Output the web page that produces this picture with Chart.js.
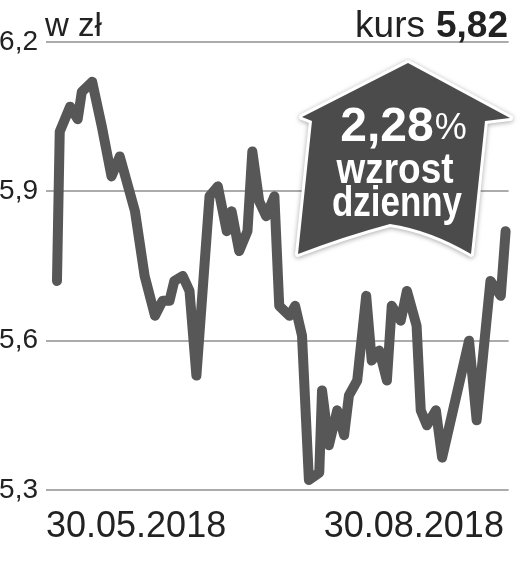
<!DOCTYPE html>
<html>
<head>
<meta charset="utf-8">
<script src="https://cdn.jsdelivr.net/npm/chart.js@4/dist/chart.umd.min.js"></script>
<style>
html,body{margin:0;padding:0;background:#fff;}
#c{display:block;}
</style>
</head>
<body>
<canvas id="c" width="519" height="565"></canvas>
<script>
// ---- data ----
const dayIndex = [0,0.4,1.9,3.0,3.6,5.1,6.5,7.9,9.1,11.3,12.7,14.2,15.3,16.3,17.0,18.2,19.2,20.2,22.1,23.3,24.6,25.3,26.4,27.6,28.3,29.3,30.3,31.5,32.2,33.7,34.5,35.5,36.5,38.0,38.4,39.4,40.6,41.6,42.3,43.5,44.8,45.6,46.7,47.8,48.5,49.8,50.7,52.1,52.7,53.6,54.9,55.8,59.7,60.8,62.8,64.3,65.0];
const kurs = [5.72,6.02,6.07,6.045,6.10,6.12,6.03,5.93,5.97,5.86,5.73,5.65,5.68,5.68,5.72,5.73,5.70,5.53,5.89,5.91,5.82,5.86,5.78,5.82,5.98,5.88,5.85,5.89,5.67,5.65,5.67,5.61,5.32,5.335,5.50,5.39,5.46,5.41,5.49,5.52,5.69,5.56,5.58,5.52,5.67,5.64,5.70,5.63,5.46,5.43,5.46,5.365,5.60,5.44,5.72,5.69,5.82];
const yTicks = [5.3, 5.6, 5.9, 6.2];
const xTickLabels = ['30.05.2018', '30.08.2018'];
const xMin = -1.59, xMax = 65.43;
const xTickPos = [xMin, 64.75];
const unitLabel = 'w zł';
const kursLabel = 'kurs';
const kursValue = '5,82';
const changeValue = '2,28';
const changeLines = ['wzrost', 'dzienny'];

const FONT = '"Liberation Sans", Arial, sans-serif';
const TXT = '#222';

const overlay = {
  id: 'overlay',
  afterDraw(chart) {
    const ctx = chart.ctx;
    ctx.save();
    // header texts
    ctx.fillStyle = TXT;
    ctx.textBaseline = 'alphabetic';
    ctx.textAlign = 'left';
    ctx.font = '33px ' + FONT;
    ctx.fillText(unitLabel, 45, 36);
    ctx.font = 'bold 37px ' + FONT;
    const wv = ctx.measureText(kursValue).width;
    ctx.fillText(kursValue, 508 - wv, 37);
    ctx.font = '37px ' + FONT;
    const wk = ctx.measureText(kursLabel).width;
    ctx.fillText(kursLabel, 508 - wv - 11 - wk, 37);

    // arrow badge
    ctx.beginPath();
    ctx.moveTo(408, 63);
    ctx.lineTo(510, 118);
    ctx.lineTo(485, 121);
    ctx.lineTo(471, 254);
    ctx.quadraticCurveTo(430, 230, 390, 224);
    ctx.quadraticCurveTo(345, 236, 298, 254);
    ctx.lineTo(312, 121);
    ctx.lineTo(302, 117);
    ctx.closePath();
    ctx.shadowColor = 'rgba(0,0,0,0.35)';
    ctx.shadowBlur = 5;
    ctx.shadowOffsetY = 1;
    ctx.lineJoin = 'round';
    ctx.strokeStyle = '#fff';
    ctx.lineWidth = 6;
    ctx.stroke();
    ctx.shadowColor = 'transparent';
    ctx.fillStyle = '#4b4b4b';
    ctx.fill();

    // badge text
    ctx.fillStyle = '#fff';
    ctx.font = 'bold 48px ' + FONT;
    const w1 = ctx.measureText(changeValue).width;
    ctx.font = '36px ' + FONT;
    const w2 = ctx.measureText('%').width;
    const x0 = 403 - (w1 + w2) / 2;
    ctx.font = 'bold 48px ' + FONT;
    ctx.fillText(changeValue, x0, 141);
    ctx.font = '36px ' + FONT;
    ctx.fillText('%', x0 + w1 + 1, 139);

    const drawScaled = (txt, cx, base, size, targetW) => {
      ctx.font = 'bold ' + size + 'px ' + FONT;
      const w = ctx.measureText(txt).width;
      const sx = targetW / w;
      ctx.save();
      ctx.translate(cx, base);
      ctx.scale(sx, 1);
      ctx.textAlign = 'center';
      ctx.fillText(txt, 0, 0);
      ctx.restore();
    };
    drawScaled(changeLines[0], 395, 183, 43, 117);
    drawScaled(changeLines[1], 397, 216, 43, 130);
    ctx.restore();
  }
};

new Chart(document.getElementById('c'), {
  type: 'line',
  data: {
    datasets: [{
      data: dayIndex.map((d, i) => ({ x: d, y: kurs[i] })),
      borderColor: '#575757',
      borderWidth: 10,
      pointRadius: 0,
      tension: 0,
      borderJoinStyle: 'round',
      borderCapStyle: 'round',
      fill: false,
      clip: false
    }]
  },
  options: {
    responsive: false,
    animation: false,
    devicePixelRatio: 1,
    layout: { padding: { top: 42, right: 9, left: 0, bottom: 0 } },
    plugins: { legend: { display: false }, tooltip: { enabled: false } },
    scales: {
      x: {
        type: 'linear',
        min: xMin,
        max: xMax,
        grid: { display: false, drawTicks: false },
        border: { display: false },
        afterBuildTicks: s => { s.ticks = xTickPos.map(v => ({ value: v })); },
        afterFit: s => { s.height = 75; },
        ticks: {
          autoSkip: false,
          maxRotation: 0,
          align: 'inner',
          padding: 15,
          color: TXT,
          font: { size: 36, family: FONT },
          callback: (v, i) => xTickLabels[i]
        }
      },
      y: {
        min: 5.3,
        max: 6.2,
        position: 'left',
        afterBuildTicks: s => { s.ticks = yTicks.map(v => ({ value: v })); },
        afterFit: s => { s.width = 46; },
        grid: { color: '#ababab', lineWidth: 2, drawTicks: false },
        border: { display: false },
        ticks: {
          padding: 8,
          color: TXT,
          font: { size: 28, family: FONT },
          callback: v => v.toFixed(1).replace('.', ',')
        }
      }
    }
  },
  plugins: [overlay]
});
</script>
</body>
</html>
